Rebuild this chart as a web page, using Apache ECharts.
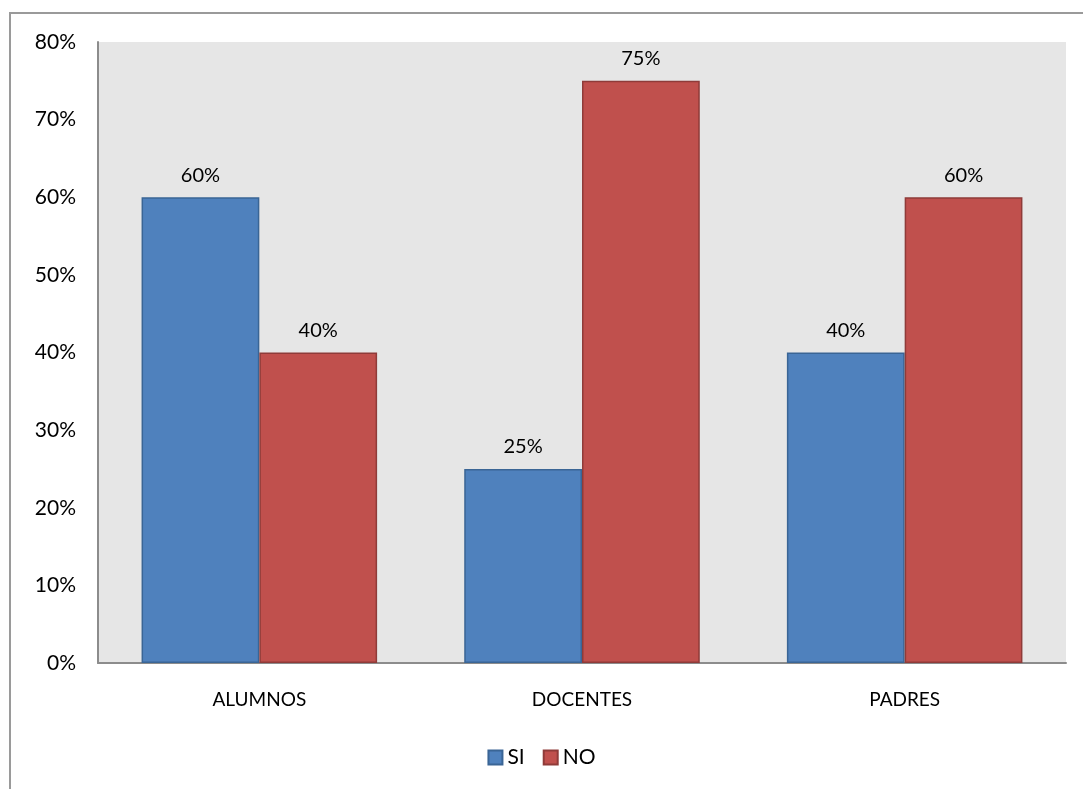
<!DOCTYPE html>
<html><head><meta charset="utf-8">
<script src="https://cdn.jsdelivr.net/npm/echarts@6/dist/echarts.min.js"></script>
<style>
html,body{margin:0;padding:0;background:#fff;}
#frame{position:absolute;left:9px;top:12px;width:1100px;height:800px;border:2px solid #9a9a9a;box-sizing:border-box;}
#c{position:absolute;left:0;top:0;width:1083px;height:789px;}
</style></head>
<body>
<div id="frame"></div>
<div id="c"></div>
<script>
const categories = ['ALUMNOS', 'DOCENTES', 'PADRES'];
const siValues = [60, 25, 40];
const noValues = [40, 75, 60];
const yTicks = [0, 10, 20, 30, 40, 50, 60, 70, 80];
const seriesNames = ['SI', 'NO'];

const chart = echarts.init(document.getElementById('c'));
const font = 'Lato, "Open Sans", sans-serif';
const lbl = {show:true, position:'top', distance:12, formatter: p => p.value + '%', color:'#000', fontSize:20, fontFamily:font};
chart.setOption({
  animation:false,
  textStyle:{fontFamily:font},
  grid:{left:98, top:42, right:17, bottom:126, show:true, backgroundColor:'#e6e6e6', borderWidth:0},
  legend:{bottom:16, left:'center', icon:'rect', itemWidth:14, itemHeight:14, itemGap:18,
    textStyle:{fontSize:21, color:'#000', fontFamily:font}, data:seriesNames},
  xAxis:{type:'category', data:categories,
    axisLine:{lineStyle:{color:'#8c8c8c', width:2}}, axisTick:{show:false},
    axisLabel:{fontSize:19, color:'#000', margin:27, fontFamily:font}},
  yAxis:{type:'value', min:yTicks[0], max:yTicks[yTicks.length-1], interval:10,
    axisLine:{show:true, lineStyle:{color:'#8c8c8c', width:2}}, axisTick:{show:false},
    splitLine:{show:false},
    axisLabel:{fontSize:21, color:'#000', margin:22, formatter: v => v + '%', fontFamily:font}},
  series:[
    {name:seriesNames[0], type:'bar', data:siValues, barGap:'0%', barCategoryGap:'27%',
     itemStyle:{color:'#4f81bd', borderColor:'#3a6595', borderWidth:1.5}, label:lbl},
    {name:seriesNames[1], type:'bar', data:noValues,
     itemStyle:{color:'#c0504d', borderColor:'#8f3b39', borderWidth:1.5}, label:lbl}
  ]
});
</script>
</body></html>
